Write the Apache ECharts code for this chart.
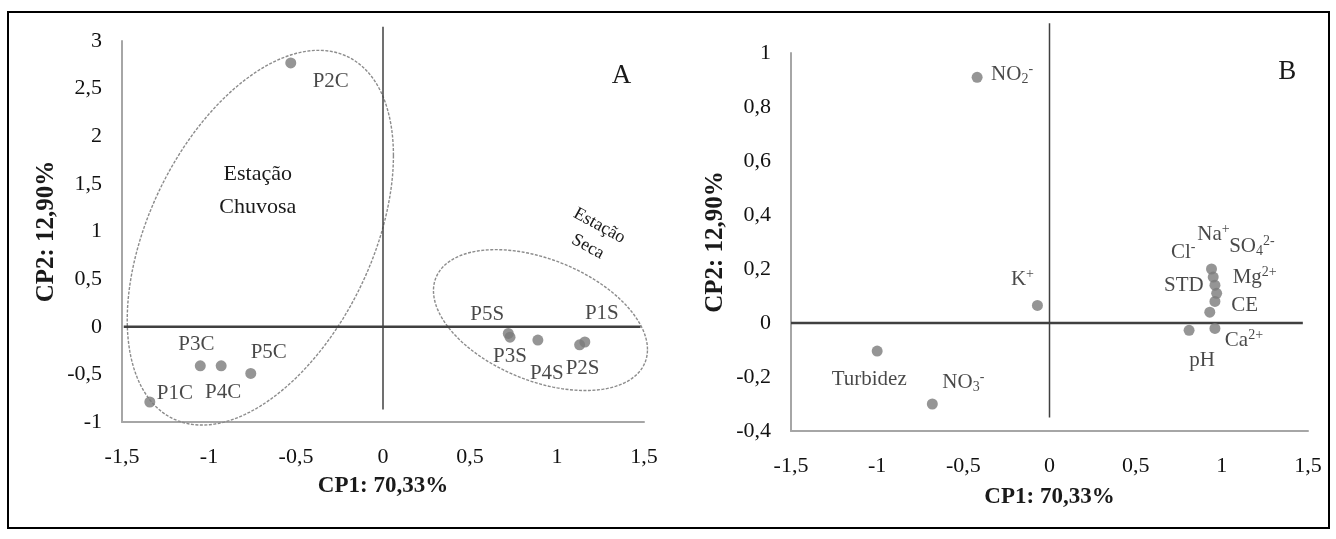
<!DOCTYPE html>
<html><head><meta charset="utf-8">
<script src="https://cdn.jsdelivr.net/npm/echarts@6/dist/echarts.min.js"></script>
<style>html,body{margin:0;padding:0;background:#fff}#c{width:1336px;height:539px}</style>
</head><body><div id="c"></div>
<script>
// ---------- Panel A: sample scores ----------
const namesA = ['P1C','P2C','P3C','P4C','P5C','P1S','P2S','P3S','P4S','P5S'];
const cp1A = [-1.34, -0.53, -1.05, -0.93, -0.76, 1.16, 1.13, 0.73, 0.89, 0.72];
const cp2A = [-0.79, 2.77, -0.41, -0.41, -0.49, -0.16, -0.19, -0.11, -0.14, -0.07];
// ---------- Panel B: variable loadings ----------
const namesB = ['NO2','K','Turbidez','NO3','pH','Na','Cl','SO4','Mg','STD','CE','Ca'];
const textB = ['{t|NO}{sub|2}{sup|-}','{t|K}{sup|+}','{t|Turbidez}','{t|NO}{sub|3}{sup|-}','{t|pH}',
  '{t|Na}{sup|+}','{t|Cl}{sup|-}','{t|SO}{sub|4}{sup|2-}','{t|Mg}{sup|2+}','{t|STD}','{t|CE}','{t|Ca}{sup|2+}'];
const cp1B = [-0.42, -0.07, -1.0, -0.68, 0.81, 0.94, 0.95, 0.96, 0.97, 0.96, 0.93, 0.96];
const cp2B = [0.91, 0.065, -0.104, -0.30, -0.027, 0.20, 0.17, 0.14, 0.11, 0.08, 0.04, -0.02];
// ---------- axes ----------
const xTicks = [-1.5, 1.5, 0.5];      // min, max, interval
const yTicksA = [-1, 3, 0.5];
const yTicksB = [-0.4, 1, 0.2];
const xTitle = 'CP1: 70,33%';
const yTitle = 'CP2: 12,90%';
// group ellipses (centre + conjugate semi-axes, data units)
const ellipseChuvosa = {c:[-0.705, 0.935], u:[0.765, 0.863], v:[0, 1.768]};
const ellipseSeca = {c:[0.905, 0.07], u:[0.615, -0.309], v:[0, 0.672]};
// reference lines through origin
const hLineA = [[-1.49, 0], [1.48, 0]];
const vLineA = [[0, 3.15], [0, -0.87]];
const hLineB = [[-1.5, 0], [1.47, 0]];
const vLineB = [[0, 1.11], [0, -0.35]];

// ---------- layout / style (not data) ----------
const FONT = 'Liberation Serif';
const labelOffA = {P2C:[40,19],P3C:[-4,-21],P4C:[2,27],P5C:[18,-21],P1C:[25,-9],
  P5S:[-21,-19],P3S:[0,19],P4S:[9,33],P2S:[3,24],P1S:[17,-29]};
const labelOffB = {NO2:[35,-3],K:[-15,-26],Turbidez:[-8,28],NO3:[31,-22],pH:[13,30],
  Na:[2,-35],Cl:[-30,-25],SO4:[37,-39],Mg:[38,-16],STD:[-31,-16],CE:[35,-7],Ca:[29,12]};
const rich = {
  t:{fontFamily:FONT,fontSize:21,color:'#1a1a1a',lineHeight:24},
  sub:{fontFamily:FONT,fontSize:14,color:'#1a1a1a',lineHeight:13,verticalAlign:'bottom'},
  sup:{fontFamily:FONT,fontSize:14,color:'#1a1a1a',lineHeight:13,verticalAlign:'top'}
};
const fmt = v => String(Math.round(v*10)/10).replace('.', ',');
function xAxisCfg(gi, gap){
  return {type:'value', gridIndex:gi, min:xTicks[0], max:xTicks[1], interval:xTicks[2],
    splitLine:{show:false}, axisTick:{show:false},
    axisLine:{onZero:false, lineStyle:{color:'#a6a6a6', width:2}},
    axisLabel:{formatter:fmt, fontFamily:FONT, fontSize:22, color:'#111', margin:24},
    name:xTitle, nameLocation:'middle', nameGap:gap,
    nameTextStyle:{fontFamily:FONT, fontSize:23, fontWeight:'bold', color:'#1a1a1a'}};
}
function yAxisCfg(gi, t){
  return {type:'value', gridIndex:gi, min:t[0], max:t[1], interval:t[2],
    splitLine:{show:false}, axisTick:{show:false},
    axisLine:{show:true, onZero:false, lineStyle:{color:'#a6a6a6', width:2}},
    axisLabel:{formatter:fmt, fontFamily:FONT, fontSize:22, color:'#111', margin:20},
    name:yTitle, nameLocation:'middle', nameGap:63, nameRotate:90,
    nameTextStyle:{fontFamily:FONT, fontSize:25, fontWeight:'bold', color:'#1a1a1a'}};
}
function refLine(data, gi, w){
  return {type:'line', xAxisIndex:gi, yAxisIndex:gi, data, symbol:'none', clip:false, silent:true,
    lineStyle:{color:'#404040', width:w}, z:1};
}
function ellipseSeries(e, gi){
  return {type:'custom', xAxisIndex:gi, yAxisIndex:gi, silent:true, clip:false, z:1,
    data:[e.c],
    renderItem(params, api){
      const pts = [];
      for (let i = 0; i <= 160; i++) {
        const a = i / 160 * Math.PI * 2;
        pts.push(api.coord([e.c[0] + e.u[0]*Math.cos(a) + e.v[0]*Math.sin(a),
                            e.c[1] + e.u[1]*Math.cos(a) + e.v[1]*Math.sin(a)]));
      }
      return {type:'polyline', shape:{points:pts},
        style:{fill:null, stroke:'#8c8c8c', lineWidth:1.4, lineDash:[3,1.5]}};
    }};
}
function textSeries(items, gi){
  return {type:'custom', xAxisIndex:gi, yAxisIndex:gi, silent:true, clip:false, z:5,
    data: items.map(d => [d.x, d.y]),
    renderItem(params, api){
      const d = items[params.dataIndex];
      const p = api.coord([d.x, d.y]);
      return {type:'text', x:p[0], y:p[1], rotation:d.rot||0,
        style:{text:d.text, fontFamily:FONT, fontSize:d.size, fill:'#1a1a1a',
          align:'center', verticalAlign:'middle', lineHeight:d.lh||d.size}};
    }};
}
const annA = [
  {text:'Estação\nChuvosa', x:-0.72, y:1.43, size:22, lh:33},
  {text:'Estação\nSeca', x:1.21, y:0.95, size:18, lh:24, rot:-0.5},
  {text:'A', x:1.37, y:2.63, size:27}
];
const annB = [{text:'B', x:1.38, y:0.93, size:27}];

const chart = echarts.init(document.getElementById('c'), null, {renderer:'canvas'});
chart.setOption({
  animation:false,
  backgroundColor:'#fff',
  grid:[
    {left:122, top:41, width:522, height:381},
    {left:791, top:53, width:517, height:378}
  ],
  xAxis:[xAxisCfg(0, 53), xAxisCfg(1, 55)],
  yAxis:[yAxisCfg(0, yTicksA), yAxisCfg(1, yTicksB)],
  graphic:[{type:'rect', shape:{x:8, y:12, width:1321, height:516},
    style:{fill:null, stroke:'#000', lineWidth:2}, silent:true}],
  series:[
    refLine(hLineA, 0, 2.5), refLine(vLineA, 0, 1.5),
    refLine(hLineB, 1, 2.5), refLine(vLineB, 1, 1.5),
    ellipseSeries(ellipseChuvosa, 0), ellipseSeries(ellipseSeca, 0),
    {type:'scatter', xAxisIndex:0, yAxisIndex:0, symbolSize:11, z:3,
      itemStyle:{color:'#7a7a7a'},
      data: namesA.map((n,i) => ({name:n, value:[cp1A[i], cp2A[i]],
        label:{show:true, position:'inside', offset:labelOffA[n], formatter:'{t|'+n+'}', rich}}))},
    {type:'scatter', xAxisIndex:1, yAxisIndex:1, symbolSize:11, z:3,
      itemStyle:{color:'#7a7a7a'},
      data: namesB.map((n,i) => ({name:n, value:[cp1B[i], cp2B[i]],
        label:{show:true, position:'inside', offset:labelOffB[n], formatter:textB[i], rich}}))},
    textSeries(annA, 0), textSeries(annB, 1)
  ]
});
</script></body></html>
